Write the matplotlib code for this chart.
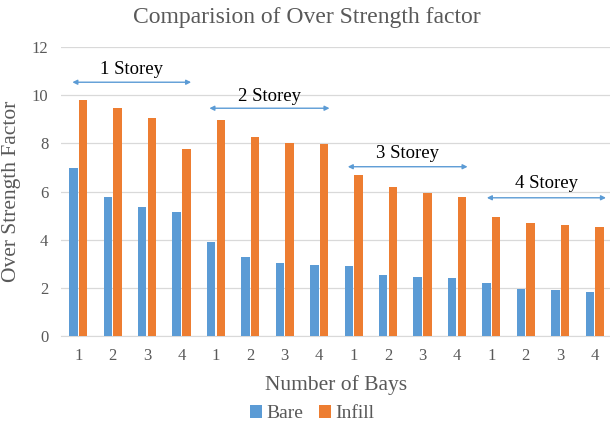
import matplotlib
matplotlib.use("Agg")
import matplotlib.pyplot as plt
from matplotlib.font_manager import FontProperties
import numpy as np

BAYS = ["1", "2", "3", "4"] * 4
BARE = [6.97, 5.78, 5.34, 5.13, 3.90, 3.28, 3.05, 2.95,
        2.90, 2.54, 2.43, 2.39, 2.21, 1.97, 1.89, 1.82]
INFILL = [9.80, 9.49, 9.05, 7.78, 8.98, 8.26, 8.01, 7.96,
          6.68, 6.17, 5.93, 5.78, 4.95, 4.70, 4.59, 4.52]
SERIES = ["Bare", "Infill"]
STOREY_LABELS = ["1 Storey", "2 Storey", "3 Storey", "4 Storey"]

BLUE = "#5B9BD5"
ORANGE = "#ED7D31"
TEXT = "#595959"

plt.rcParams["font.family"] = "serif"
plt.rcParams["font.serif"] = ["Liberation Serif", "DejaVu Serif"]

fig = plt.figure(figsize=(6.10, 4.28), dpi=100)
ax = fig.add_axes([0.1, 0.215, 0.903, 0.675])

x = np.arange(len(BAYS))
width = 0.245
ax.bar(x - 0.14, BARE, width, color=BLUE, label=SERIES[0], zorder=3)
ax.bar(x + 0.14, INFILL, width, color=ORANGE, label=SERIES[1], zorder=3)

ax.set_xlim(-0.5, len(BAYS) - 0.5)
ax.set_ylim(0, 12)
ax.set_yticks(range(0, 13, 2))
ax.set_xticks(x, BAYS)
ax.grid(axis="y", color="#D9D9D9", linewidth=0.9, zorder=0)
for side in ["top", "right", "left"]:
    ax.spines[side].set_visible(False)
ax.spines["bottom"].set_color("#D9D9D9")
ax.tick_params(length=0, labelsize=12, colors=TEXT, pad=9)

# storey group arrows (start, end, arrow y, text y)
spans = [(-0.17, 3.28, 10.54, 11.08), (3.81, 7.30, 9.46, 9.95),
         (7.83, 11.31, 7.03, 7.6), (11.87, 15.33, 5.74, 6.35)]
for label, (x0, x1, ya, yt) in zip(STOREY_LABELS, spans):
    ax.annotate("", xy=(x1, ya), xytext=(x0, ya),
                arrowprops=dict(arrowstyle="<|-|>", color=BLUE, lw=1.0,
                                mutation_scale=7, shrinkA=0, shrinkB=0),
                zorder=4)
    ax.text((x0 + x1) / 2, yt, label, ha="center", va="center",
            fontsize=13.5, color="black", zorder=4)

ax.set_xlabel("Number of Bays", fontsize=15.5, color=TEXT, labelpad=8)
ax.set_ylabel("Over Strength Factor", fontsize=15.5, color=TEXT, labelpad=8)
fig.text(0.503, 0.958, "Comparision of Over Strength factor", ha="center",
         va="center", fontsize=17, color=TEXT)

leg = ax.legend(loc="center", bbox_to_anchor=(0.456, -0.27), ncol=2,
                frameon=False, prop=FontProperties(family="Liberation Serif", size=14),
                handlelength=0.6, handleheight=0.6, handletextpad=0.25,
                columnspacing=0.8, labelcolor=TEXT)

fig.savefig("out.png", dpi=100)
